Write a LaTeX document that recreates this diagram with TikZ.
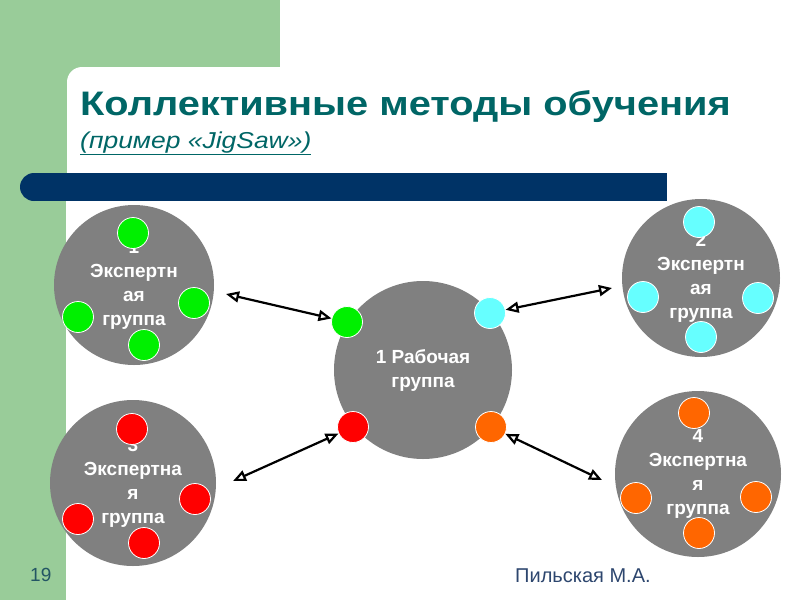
\documentclass[tikz,border=0pt]{standalone}
\usepackage{fontspec}
\setmainfont{Liberation Sans}
\newfontfamily\titlefont[FakeStretch=1.17]{Liberation Sans}
\newfontfamily\subtitlefont[FakeStretch=1.15]{Liberation Sans}
\usetikzlibrary{arrows.meta,positioning}
\definecolor{bggreen}{RGB}{153,204,153}
\definecolor{barnavy}{RGB}{0,51,102}
\definecolor{titleteal}{RGB}{0,102,102}
\definecolor{circgray}{RGB}{128,128,128}
\definecolor{dotgreen}{RGB}{0,240,0}
\definecolor{dotcyan}{RGB}{102,255,255}
\definecolor{dotred}{RGB}{255,0,0}
\definecolor{dotorange}{RGB}{255,102,0}
\definecolor{footblue}{RGB}{45,70,110}
\definecolor{pageteal}{RGB}{35,85,100}

\begin{document}
\begin{tikzpicture}[
    x=1pt, y=-1pt,
    group/.style={circle, fill=circgray, text=white, font=\fontsize{19}{24}\selectfont\bfseries, align=center, inner sep=0pt},
    member/.style={circle, draw=white, line width=0.8pt, minimum size=31pt, inner sep=0pt},
    arrow/.style={{Triangle[open,length=13pt,width=11pt]}-{Triangle[open,length=13pt,width=11pt]}, line width=2.2pt}
]
    \useasboundingbox (0,0) rectangle (800,600);
    % background
    \fill[bggreen] (0,0) rectangle (280,173);
    \fill[white, rounded corners=15pt] (67,67) rectangle (830,240);
    \fill[bggreen] (0,0) rectangle (66,600);
    \fill[barnavy] (34,173) rectangle (667,201);
    \fill[barnavy] (34,187) circle (14);

    % title
    \node[anchor=base west, text=titleteal, font=\titlefont\fontsize{34}{40}\selectfont\bfseries, inner sep=0pt] (title) at (80,115) {Коллективные методы обучения};
    \node[anchor=base west, text=titleteal, font=\subtitlefont\fontsize{23}{27}\selectfont\itshape, inner sep=0pt] (subtitle) at (80,148) {\underline{(пример «JigSaw»)}};

    % working group
    \node[group, minimum size=178pt] (work) at (423,370) {1 Рабочая\\группа};
    \node[member, fill=dotgreen] (wg) at (347,322) {};
    \node[member, fill=dotcyan] (wc) at (490,313) {};
    \node[member, fill=dotred] (wr) at (353,427) {};
    \node[member, fill=dotorange] (wo) at (491,427) {};

    % expert groups
    \node[group, minimum size=160pt] (exp1) at (134,285) {1\\Экспертн\\ая\\группа};
    \node[member, fill=dotgreen] (e1a) at (133,233) {};
    \node[member, fill=dotgreen] (e1b) at (194,303) {};
    \node[member, fill=dotgreen] (e1c) at (78,317) {};
    \node[member, fill=dotgreen] (e1d) at (144,345) {};

    \node[group, minimum size=158pt] (exp2) at (701,278) {2\\Экспертн\\ая\\группа};
    \node[member, fill=dotcyan] (e2a) at (699,222) {};
    \node[member, fill=dotcyan] (e2b) at (643,297) {};
    \node[member, fill=dotcyan] (e2c) at (758,298) {};
    \node[member, fill=dotcyan] (e2d) at (701,337) {};

    \node[group, minimum size=166pt] (exp3) at (133,483) {3\\Экспертна\\я\\группа};
    \node[member, fill=dotred] (e3a) at (132,429) {};
    \node[member, fill=dotred] (e3b) at (195,499) {};
    \node[member, fill=dotred] (e3c) at (78,519) {};
    \node[member, fill=dotred] (e3d) at (144,543) {};

    \node[group, minimum size=166pt] (exp4) at (698,474) {4\\Экспертна\\я\\группа};
    \node[member, fill=dotorange] (e4a) at (694,413) {};
    \node[member, fill=dotorange] (e4b) at (636,498) {};
    \node[member, fill=dotorange] (e4c) at (756,497) {};
    \node[member, fill=dotorange] (e4d) at (699,533) {};

    % arrows
    \coordinate (end1) at (226,294);
    \coordinate (end2) at (612,288);
    \coordinate (end3) at (233,481);
    \coordinate (end4) at (602,480);
    \draw[arrow] (end1) -- (wg);
    \draw[arrow] (wc) -- (end2);
    \draw[arrow] (end3) -- (wr);
    \draw[arrow] (wo) -- (end4);

    % footer
    \node[anchor=base west, text=pageteal, font=\fontsize{19}{23}\selectfont, inner sep=0pt] (page) at (30,581) {19};
    \node[anchor=base west, text=footblue, font=\fontsize{20}{24}\selectfont, inner sep=0pt] (author) at (515,582) {Пильская М.А.};
\end{tikzpicture}
\end{document}
